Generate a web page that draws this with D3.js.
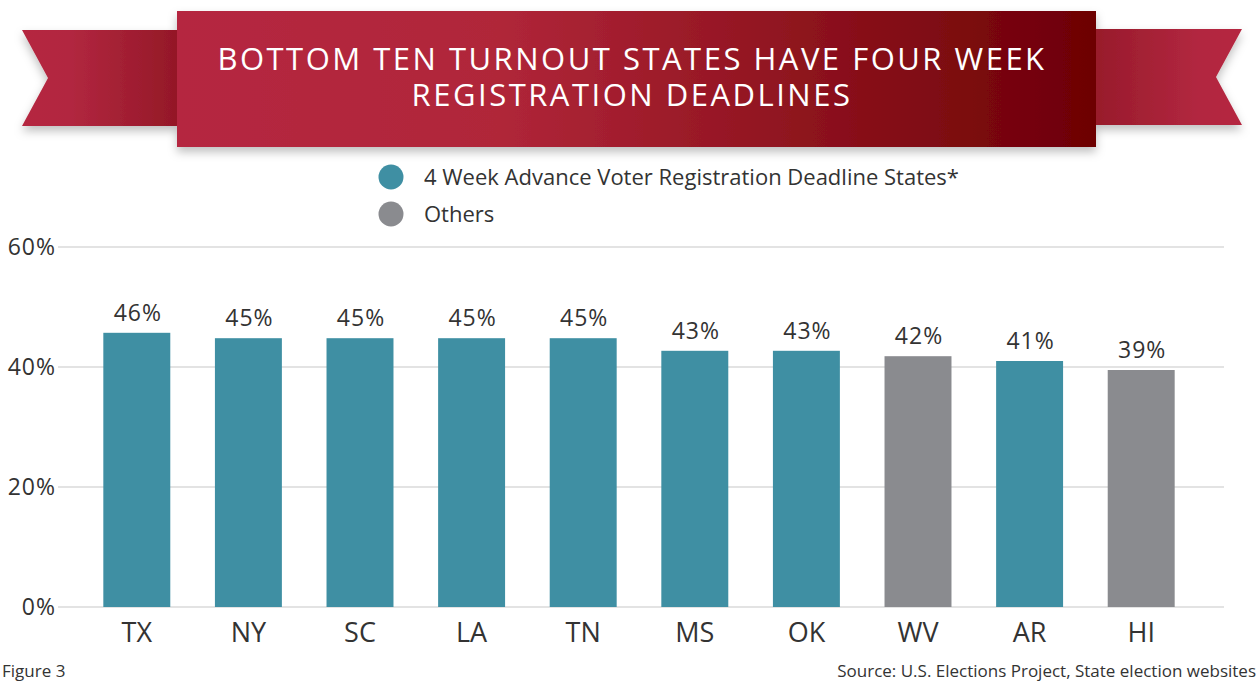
<!DOCTYPE html>
<html>
<head>
<meta charset="utf-8">
<script src="https://cdn.jsdelivr.net/npm/d3@7"></script>
<style>
  body { margin: 0; background: #fff; }
  svg { display: block; font-family: "Open Sans", "Noto Sans", sans-serif; }
</style>
</head>
<body>
<svg id="chart" width="1258" height="682"></svg>
<script>
var states = ["TX", "NY", "SC", "LA", "TN", "MS", "OK", "WV", "AR", "HI"];
var turnout = [45.7, 44.8, 44.8, 44.8, 44.8, 42.7, 42.7, 41.8, 41.0, 39.5];
var labels = ["46%", "45%", "45%", "45%", "45%", "43%", "43%", "42%", "41%", "39%"];
var groups = ["four", "four", "four", "four", "four", "four", "four", "other", "four", "other"];
var yTicks = [0, 20, 40, 60];
var titleLines = ["BOTTOM TEN TURNOUT STATES HAVE FOUR WEEK", "REGISTRATION DEADLINES"];
var legendNames = ["4 Week Advance Voter Registration Deadline States*", "Others"];
var legendKeys = ["four", "other"];

var svg = d3.select("#chart");

var color = d3.scaleOrdinal()
    .domain(["four", "other"])
    .range(["#3f8fa3", "#8a8b8f"]);

// banner
var defs = svg.append("defs");

var shadow = defs.append("filter")
    .attr("id", "shadow")
    .attr("x", "-10%").attr("y", "-20%")
    .attr("width", "120%").attr("height", "150%");
shadow.append("feDropShadow")
    .attr("dx", 0).attr("dy", 5)
    .attr("stdDeviation", 5)
    .attr("flood-color", "#000")
    .attr("flood-opacity", 0.25);

function grad(id, stops) {
    var g = defs.append("linearGradient").attr("id", id)
        .attr("x1", "0%").attr("x2", "100%").attr("y1", "0%").attr("y2", "0%");
    stops.forEach(function(s) {
        g.append("stop").attr("offset", s[0]).attr("stop-color", s[1]);
    });
}
grad("gMain", [["0%", "#b52841"], ["35%", "#b02639"], ["100%", "#6d0004"]]);
grad("gLeft", [["0%", "#b52841"], ["30%", "#b22740"], ["100%", "#941827"]]);
grad("gRight", [["0%", "#981b2b"], ["70%", "#b22740"], ["100%", "#b52841"]]);

var banner = svg.append("g").attr("filter", "url(#shadow)");

banner.append("path")
    .attr("d", "M22,30 L177,30 L177,126 L22,126 L48,78 Z")
    .attr("fill", "url(#gLeft)");

banner.append("path")
    .attr("d", "M1096,29 L1242,29 L1216,77 L1242,125 L1096,125 Z")
    .attr("fill", "url(#gRight)");

banner.append("rect")
    .attr("x", 177).attr("y", 11)
    .attr("width", 919).attr("height", 136)
    .attr("fill", "url(#gMain)");

svg.append("g").selectAll("text")
    .data(titleLines)
  .enter().append("text")
    .attr("x", 632)
    .attr("y", function(d, i) { return 70 + i * 36; })
    .attr("text-anchor", "middle")
    .attr("fill", "#fff")
    .style("font-size", "31px")
    .style("letter-spacing", "2.5px")
    .text(function(d) { return d; });

// legend
var legend = svg.append("g").selectAll("g")
    .data(legendNames)
  .enter().append("g")
    .attr("transform", function(d, i) { return "translate(391," + (177 + i * 37) + ")"; });

legend.append("circle")
    .attr("r", 12.5)
    .attr("fill", function(d, i) { return color(legendKeys[i]); });

legend.append("text")
    .attr("x", 33)
    .attr("dy", "0.35em")
    .attr("fill", "#333")
    .style("font-size", "22px")
    .text(function(d) { return d; });

// chart
var x = d3.scaleBand()
    .domain(states)
    .range([81, 1197])
    .paddingInner(0.4)
    .paddingOuter(0.2);

var y = d3.scaleLinear()
    .domain([0, 60])
    .range([607, 247]);

var grid = svg.append("g");
grid.selectAll("line")
    .data(yTicks)
  .enter().append("line")
    .attr("x1", 58).attr("x2", 1224)
    .attr("y1", function(d) { return y(d); })
    .attr("y2", function(d) { return y(d); })
    .attr("stroke", "#dadada")
    .attr("stroke-width", 1.5);

var yAxis = d3.axisLeft(y)
    .tickValues(yTicks)
    .tickSize(0)
    .tickPadding(0)
    .tickFormat(function(d) { return d + "%"; });

svg.append("g")
    .attr("transform", "translate(56,0)")
    .call(yAxis)
    .call(function(g) { g.select(".domain").remove(); })
    .selectAll("text")
    .attr("fill", "#333")
    .style("font-family", "'Open Sans', sans-serif")
    .style("font-size", "23px")
    .style("letter-spacing", "1px");

var data = states.map(function(s, i) {
    return {state: s, value: turnout[i], label: labels[i], group: groups[i]};
});

svg.append("g").selectAll("rect")
    .data(data)
  .enter().append("rect")
    .attr("x", function(d) { return x(d.state); })
    .attr("width", x.bandwidth())
    .attr("y", function(d) { return y(d.value); })
    .attr("height", function(d) { return y(0) - y(d.value); })
    .attr("fill", function(d) { return color(d.group); });

svg.append("g").selectAll("text")
    .data(data)
  .enter().append("text")
    .attr("x", function(d) { return x(d.state) + x.bandwidth() / 2 + 1; })
    .attr("y", function(d) { return y(d.value) - 12; })
    .attr("text-anchor", "middle")
    .attr("fill", "#333")
    .style("font-size", "23px")
    .style("letter-spacing", "1px")
    .text(function(d) { return d.label; });

var xAxis = d3.axisBottom(x)
    .tickSize(0)
    .tickPadding(0);

svg.append("g")
    .attr("transform", "translate(0,607)")
    .call(xAxis)
    .call(function(g) { g.select(".domain").remove(); })
    .selectAll("text")
    .attr("dy", null)
    .attr("y", 35)
    .attr("fill", "#333")
    .style("font-family", "'Open Sans', sans-serif")
    .style("font-size", "27px");

// footer
svg.append("text")
    .attr("x", 2).attr("y", 677)
    .attr("fill", "#333")
    .style("font-size", "17px")
    .text("Figure 3");

svg.append("text")
    .attr("x", 1256).attr("y", 677)
    .attr("text-anchor", "end")
    .attr("fill", "#333")
    .style("font-size", "17px")
    .text("Source: U.S. Elections Project, State election websites");
</script>
</body>
</html>
